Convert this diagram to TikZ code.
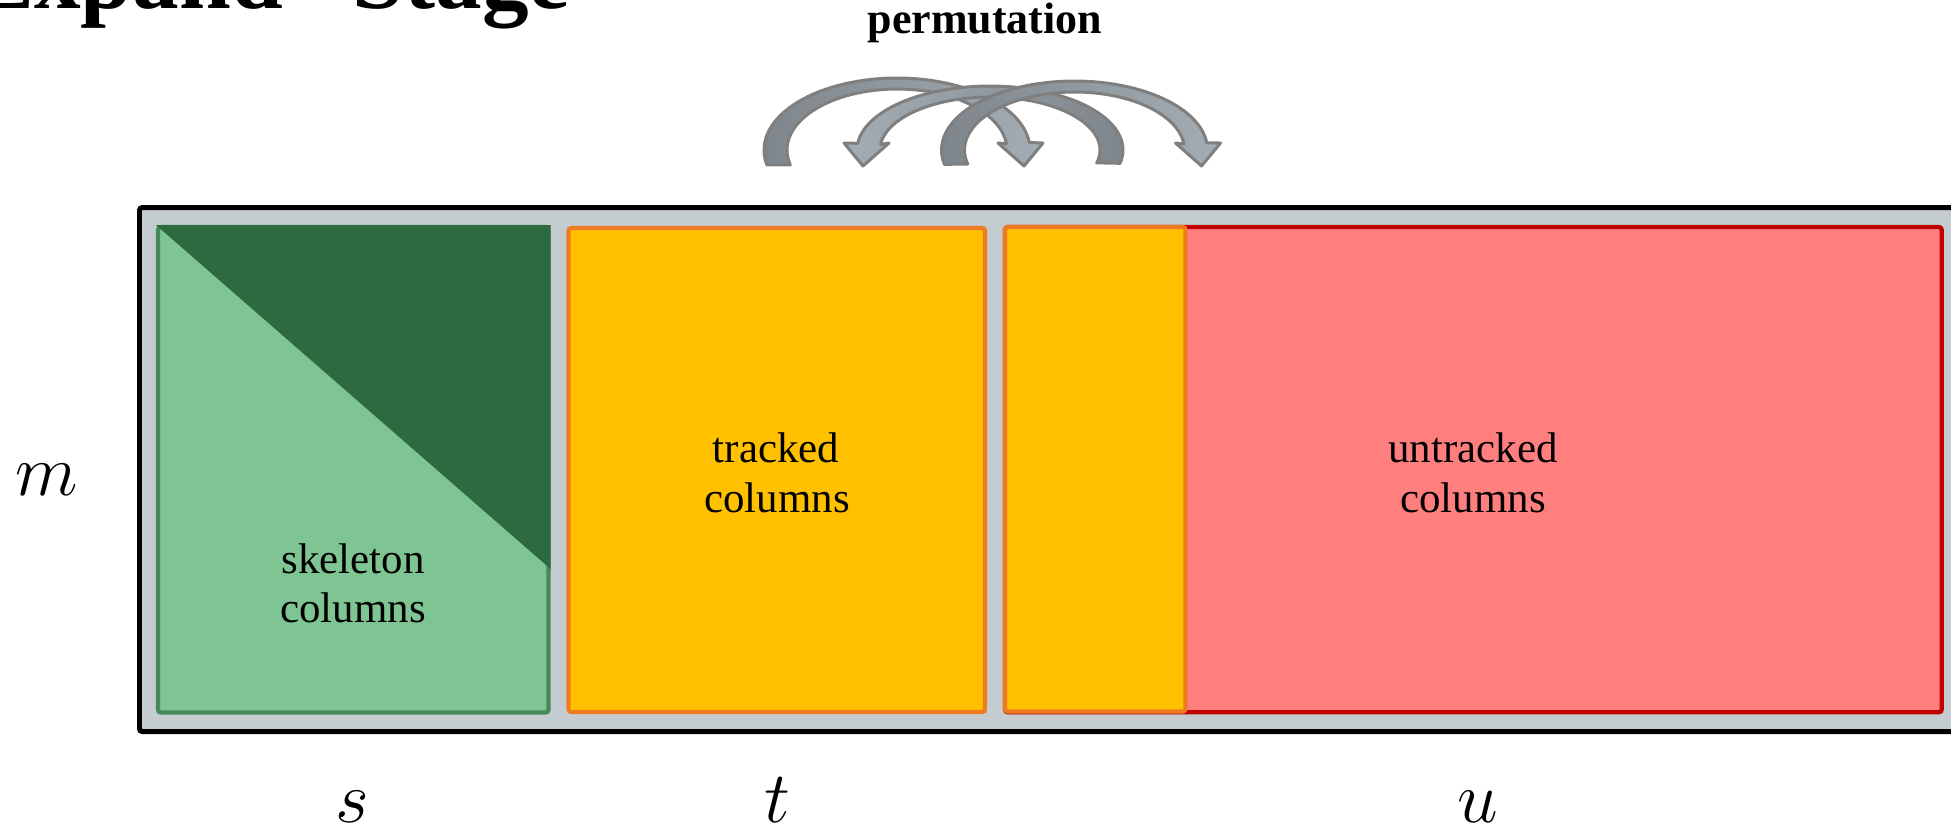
\documentclass[tikz,border=0pt]{standalone}
\usepackage{fontspec}
\setmainfont{Liberation Serif}

\definecolor{panelfill}{HTML}{C5CCCF}
\definecolor{skelfill}{HTML}{7FC493}
\definecolor{skeldark}{HTML}{2E6A40}
\definecolor{skelline}{HTML}{438A58}
\definecolor{trkfill}{HTML}{FFC000}
\definecolor{trkline}{HTML}{EE7B22}
\definecolor{untfill}{HTML}{FF7F7F}
\definecolor{untline}{HTML}{C00000}
\definecolor{armdark}{HTML}{7E868C}
\definecolor{armlight}{HTML}{A3ADB3}
\definecolor{armline}{HTML}{7F7F7F}

\tikzset{
  panel/.style={line width=1.42pt, draw=black, fill=panelfill, rounded corners=0.8pt},
  colbox/.style={line width=1.2pt, rounded corners=0.8pt},
  lbl/.style={anchor=base, inner sep=0pt, font=\fontsize{12.2pt}{14pt}\selectfont},
  dimlbl/.style={anchor=base, inner sep=0pt, font=\fontsize{20.5pt}{24pt}\selectfont},
  arrowbody/.style={draw=armline, line width=0.85pt, line join=round},
  tailleft/.style={left color=armdark, right color=armlight},
  tailright/.style={left color=armlight, right color=armdark},
}

% curved block arrow: #1 centre x, #2 direction (+1 head right, -1 head left),
% #3 outer half-height, #4 shading style
\newcommand\permarrow[4]{%
  \draw[arrowbody,#4]
    plot[domain=168:354,samples=60,variable=\t]
      ({#1+(#2)*133*cos(\t)},{150+#3*sin(\t)})
    -- ({#1+(#2)*146},143) -- ({#1+(#2)*127},166) -- ({#1+(#2)*101},143)
    -- plot[domain=354:166,samples=60,variable=\t]
      ({#1+(#2)*110*cos(\t)},{150+(#3-11)*sin(\t)})
    -- cycle;}

\begin{document}
\begin{tikzpicture}[x=0.01cm, y=-0.01cm]
\useasboundingbox (0,0) rectangle (1951,829);

% title
\node[anchor=base east, inner sep=0pt, font=\bfseries\fontsize{26.5pt}{30pt}\selectfont]
  (title) at (571,8) {``Expand'' Stage};

% permutation arrows
\node[anchor=base, inner sep=0pt, font=\bfseries\fontsize{12.5pt}{15pt}\selectfont]
  (perm) at (985,33) {permutation};
\permarrow{897}{1}{72}{tailleft}
\permarrow{990}{-1}{64}{tailright}
\permarrow{1074.5}{1}{69}{tailleft}

% matrix panel
\draw[panel] (139.5,207.5) rectangle (1995,731.5);

% skeleton columns
\draw[colbox, draw=skelline, fill=skelfill] (158,227) rectangle (548.5,712.5);
\fill[skeldark] (156,225) -- (550.6,225) -- (550.6,569) -- cycle;

% tracked columns
\draw[colbox, draw=trkline, fill=trkfill] (568.5,228) rectangle (985,712);

% untracked columns, with the extra tracked block on top
\draw[colbox, draw=untline, fill=untfill] (1005,227) rectangle (1941.7,712.3);
\draw[colbox, draw=trkline, fill=trkfill] (1005,227) rectangle (1185.5,711.5);

% block labels
\node[lbl] (skelA) at (353,573) {skeleton};
\node[lbl] (skelB) at (353,622) {columns};
\node[lbl] (trkA) at (776,462) {tracked};
\node[lbl] (trkB) at (777,512) {columns};
\node[lbl] (untA) at (1473,462) {untracked};
\node[lbl] (untB) at (1473,512) {columns};

% dimensions
\node[dimlbl] (dimm) at (47,495) {$m$};
\node[dimlbl] (dims) at (352,822) {$s$};
\node[dimlbl] (dimt) at (777,822) {$t$};
\node[dimlbl] (dimu) at (1478,822) {$u$};
\end{tikzpicture}
\end{document}
